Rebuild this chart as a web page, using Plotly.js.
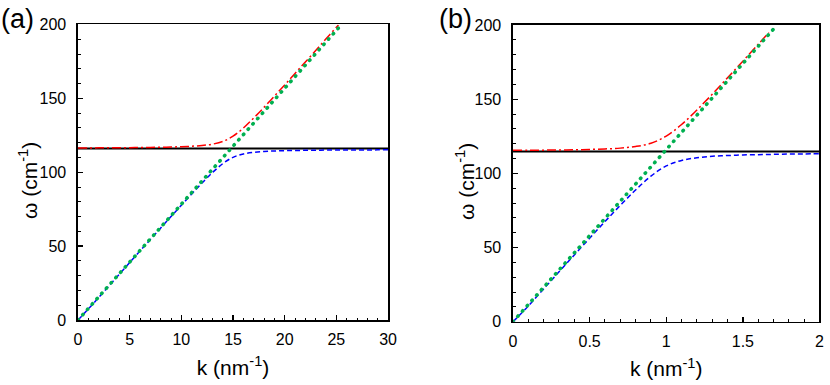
<!DOCTYPE html>
<html>
<head>
<meta charset="utf-8">
<script src="https://cdn.plot.ly/plotly-3.0.1.min.js"></script>
<style>
  html, body { margin: 0; padding: 0; background: #fff; }
  #chart { width: 830px; height: 385px; }
</style>
</head>
<body>
<div id="chart"></div>
<script>
// --- values ---

// panel (a), k in nm^-1, omega in cm^-1
const kUpperA = [0, 1, 2, 3, 4, 5, 6, 7, 8, 9, 10, 11, 12, 13, 14, 15, 16, 17, 18, 19, 20, 21, 22, 23, 24, 25, 25.2];
const wUpperA = [116.4, 116.45, 116.5, 116.55, 116.6, 116.65, 116.7, 116.8, 116.9, 117.05, 117.3, 117.6, 118.1, 119.0, 120.8, 124.4, 129.9, 136.7, 143.9, 151.5, 159.1, 166.9, 174.6, 182.4, 190.3, 198.1, 199.7];
const kLowerA = [0, 1, 2, 3, 4, 5, 6, 7, 8, 9, 10, 11, 12, 13, 14, 15, 16, 17, 18, 19, 20, 21, 22, 23, 24, 25, 26, 27, 28, 29, 30];
const wLowerA = [0, 7.45, 15.3, 23.2, 31.0, 38.9, 46.7, 54.5, 62.3, 70.0, 77.7, 85.3, 92.7, 99.7, 105.8, 110.1, 112.4, 113.5, 114.1, 114.4, 114.6, 114.75, 114.85, 114.9, 115.0, 115.0, 115.05, 115.1, 115.1, 115.15, 115.15];
const kPhotonA = [0, 25.2];
const wPhotonA = [0, 197.6];
const kPhononA = [0, 30];
const wPhononA = [116, 116];

// panel (b)
const kUpperB = [0, 0.1, 0.2, 0.3, 0.4, 0.5, 0.6, 0.7, 0.8, 0.9, 1.0, 1.1, 1.2, 1.3, 1.4, 1.5, 1.6, 1.67];
const wUpperB = [115.5, 115.55, 115.65, 115.75, 115.9, 116.1, 116.45, 117.0, 118.1, 120.3, 125.1, 132.9, 142.7, 153.3, 164.4, 175.6, 187.0, 194.9];
const kLowerB = [0, 0.1, 0.2, 0.3, 0.4, 0.5, 0.6, 0.7, 0.8, 0.9, 1.0, 1.1, 1.2, 1.3, 1.4, 1.5, 1.6, 1.7, 1.8, 1.9, 2.0];
const wLowerB = [0, 10.6, 22.1, 33.6, 45.0, 56.3, 67.5, 78.4, 88.8, 98.1, 105.0, 108.7, 110.5, 111.5, 112.0, 112.4, 112.6, 112.8, 113.0, 113.1, 113.2];
const kPhotonB = [0, 1.70];
const wPhotonB = [0, 197.2];
const kPhononB = [0, 2];
const wPhononB = [114.7, 114.7];

const xTitle = 'k (nm<sup>-1</sup>)';
const yTitle = 'ω (cm<sup>-1</sup>)';
const panelLabels = ['(a)', '(b)'];

// --- styles ---
const FONT = 'Liberation Sans, Arial, sans-serif';
const GREEN = '#00b050';
const phononLine = { color: '#000000', width: 2 };
const lowerLine = { color: '#0000ff', width: 1.5, dash: '5px,3px', shape: 'spline' };
const upperLine = { color: '#ff0000', width: 1.5, dash: '9px,3px,2px,3px', shape: 'spline' };
const photonLine = { color: GREEN, width: 3.6, dash: '0.5px,6.6px' };

function panelTraces(xa, ya, kPh, wPh, kLo, wLo, kUp, wUp, kPt, wPt) {
  return [
    { x: kPh, y: wPh, xaxis: xa, yaxis: ya, type: 'scatter', mode: 'lines', line: phononLine },
    { x: kLo, y: wLo, xaxis: xa, yaxis: ya, type: 'scatter', mode: 'lines', line: lowerLine },
    { x: kUp, y: wUp, xaxis: xa, yaxis: ya, type: 'scatter', mode: 'lines', line: upperLine },
    { x: kPt, y: wPt, xaxis: xa, yaxis: ya, type: 'scatter', mode: 'lines', line: photonLine }
  ];
}

const data = [].concat(
  panelTraces('x', 'y', kPhononA, wPhononA, kLowerA, wLowerA, kUpperA, wUpperA, kPhotonA, wPhotonA),
  panelTraces('x2', 'y2', kPhononB, wPhononB, kLowerB, wLowerB, kUpperB, wUpperB, kPhotonB, wPhotonB)
);

function xAxis(domain, range, dtick, minorDtick, anchor) {
  return {
    domain: domain, range: range, anchor: anchor,
    dtick: dtick, tick0: 0,
    ticks: 'inside', ticklen: 5, tickwidth: 1.3, tickcolor: '#000',
    minor: { ticks: 'inside', ticklen: 2.5, dtick: minorDtick, tickwidth: 1, tickcolor: '#000' },
    showline: true, mirror: true, linecolor: '#000', linewidth: 1.6,
    showgrid: false, zeroline: false,
    tickfont: { family: FONT, size: 16, color: '#000' },
    ticklabelstandoff: 4,
    title: { text: xTitle, font: { family: FONT, size: 21, color: '#000' }, standoff: 13 }
  };
}

function yAxis(domain, anchor) {
  return {
    domain: domain, range: [0, 200], anchor: anchor,
    dtick: 50, tick0: 0,
    ticks: 'inside', ticklen: 5, tickwidth: 1.3, tickcolor: '#000',
    minor: { ticks: 'inside', ticklen: 2.5, dtick: 10, tickwidth: 1, tickcolor: '#000' },
    showline: true, mirror: true, linecolor: '#000', linewidth: 1.6,
    showgrid: false, zeroline: false,
    tickfont: { family: FONT, size: 16, color: '#000' },
    ticklabelstandoff: 7
  };
}

function label(text, x, y, size, angle) {
  return {
    text: text, xref: 'paper', yref: 'paper', x: x / 830, y: 1 - y / 385,
    xanchor: 'center', yanchor: 'middle', showarrow: false, textangle: angle || 0,
    font: { family: FONT, size: size, color: '#000' }
  };
}

const layout = {
  width: 830, height: 385,
  margin: { l: 0, r: 0, t: 0, b: 0 },
  paper_bgcolor: '#fff', plot_bgcolor: '#fff',
  showlegend: false,
  font: { family: FONT, color: '#000' },
  xaxis: xAxis([0.0940, 0.4675], [0, 30], 5, 1, 'y'),
  yaxis: yAxis([0.1688, 0.9364], 'x'),
  xaxis2: xAxis([0.6181, 0.9873], [0, 2], 0.5, 0.1, 'y2'),
  yaxis2: yAxis([0.1644, 0.9351], 'x2'),
  annotations: [
    label(panelLabels[0], 17, 19, 27),
    label(panelLabels[1], 455, 19, 27),
    label(yTitle, 28, 181, 21, -90),
    label(yTitle, 465, 182, 21, -90)
  ]
};

Plotly.newPlot('chart', data, layout, { displayModeBar: false, staticPlot: true }).then(function() {
  // round caps turn the short dashes of the photon line into dots
  document.querySelectorAll('path.js-line').forEach(function(p) {
    if (p.style.stroke === 'rgb(0, 176, 80)') {
      p.style.strokeLinecap = 'round';
    }
  });
});
</script>
</body>
</html>
